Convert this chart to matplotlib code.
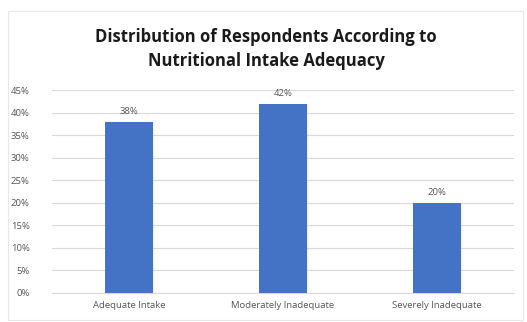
import matplotlib.pyplot as plt
from matplotlib.patches import Rectangle
from matplotlib.ticker import PercentFormatter

categories = ["Adequate Intake", "Moderately Inadequate", "Severely Inadequate"]
percentages = [38, 42, 20]
y_ticks = [0, 5, 10, 15, 20, 25, 30, 35, 40, 45]

W, H = 527, 322
fig = plt.figure(figsize=(W / 100, H / 100), dpi=100)
fig.patch.set_facecolor("white")

# faint chart-frame outline
fig.add_artist(Rectangle((8 / W, 0.005), (W - 12) / W, 1 - 11 / H - 0.005,
                         transform=fig.transFigure, fill=False,
                         edgecolor="#e8e8e8", linewidth=0.8))

left, right = 52 / W, 514 / W
bottom, top = 1 - 293 / H, 1 - 90 / H
ax = fig.add_axes([left, bottom, right - left, top - bottom])

x = range(len(categories))
bars = ax.bar(x, percentages, width=0.31, color="#4472C4", zorder=3)
for rect, v in zip(bars, percentages):
    ax.text(rect.get_x() + rect.get_width() / 2, v + 1.2, f"{v}%",
            ha="center", va="bottom", fontsize=6.8, color="#555555",
            family="Open Sans")

ax.set_xlim(-0.5, 2.5)
ax.set_ylim(0, 45)
ax.set_yticks(y_ticks)
ax.yaxis.set_major_formatter(PercentFormatter(decimals=0))
ax.set_xticks(list(x))
ax.set_xticklabels(categories)
ax.grid(axis="y", color="#d9d9d9", linewidth=0.8, zorder=0)
for s in ["top", "right", "left"]:
    ax.spines[s].set_visible(False)
ax.spines["bottom"].set_color("#d9d9d9")
ax.spines["bottom"].set_linewidth(0.8)
ax.tick_params(axis="both", length=0, labelsize=6.8, colors="#555555")
ax.tick_params(axis="y", pad=16)
ax.tick_params(axis="x", pad=6)
for lab in ax.get_xticklabels() + ax.get_yticklabels():
    lab.set_family("Open Sans")
for lab in ax.get_yticklabels():
    lab.set_horizontalalignment("right")

fig.text(0.505, 1 - 49 / H,
         "Distribution of Respondents According to\nNutritional Intake Adequacy",
         ha="center", va="center", fontsize=12, fontweight="bold",
         color="#1a1a1a", family="Open Sans", linespacing=1.45)

fig.savefig("out.png", dpi=100)
